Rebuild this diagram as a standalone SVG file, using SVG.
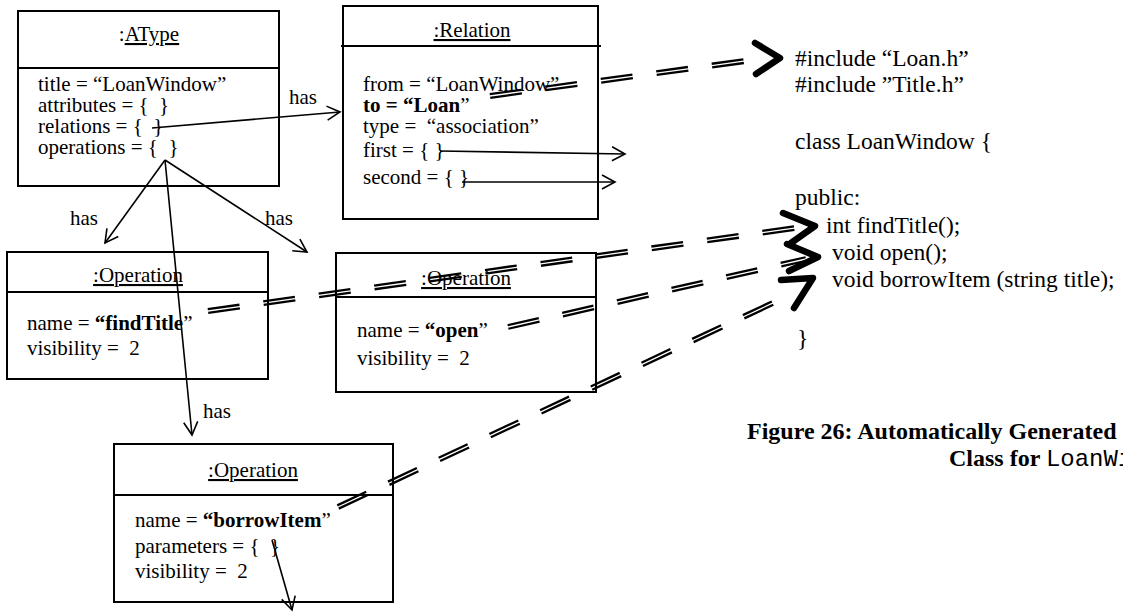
<svg xmlns="http://www.w3.org/2000/svg" width="1123" height="614" viewBox="0 0 1123 614">
  <style>
    text { font-family: "Liberation Serif", "Times New Roman", serif; fill: #000; white-space: pre; }
    .t { font-size: 21px; }
    .code { font-size: 23.5px; }
    .cap { font-size: 24px; font-weight: bold; }
    .mono { font-family: "Liberation Mono", "Courier New", monospace; font-weight: normal; }
    .b { font-weight: bold; }
    .u { text-decoration: underline; }
    .box { fill: #fff; stroke: #000; stroke-width: 2; }
    .div { stroke: #000; stroke-width: 2; }
    .link { stroke: #000; stroke-width: 1.6; fill: none; marker-end: url(#vee); }
    .dd { stroke: #000; stroke-width: 2.3; stroke-dasharray: 32 24; fill: none; }
    .head { stroke: #000; stroke-width: 6.5; fill: none; stroke-linecap: round; stroke-linejoin: round; }
  </style>
  <defs>
    <marker id="vee" markerUnits="userSpaceOnUse" markerWidth="18" markerHeight="18" viewBox="0 0 18 18" refX="16" refY="9" orient="auto">
      <path d="M3,2 L16,9 L3,16" fill="none" stroke="#000" stroke-width="1.6"/>
    </marker>
  </defs>

  <rect width="1123" height="614" fill="#fff"/>

  <!-- object: AType -->
  <g id="atype">
    <rect class="box" x="18" y="11" width="261" height="175"/>
    <line class="div" x1="18" y1="68" x2="279" y2="68"/>
    <text class="t" x="149" y="41" text-anchor="middle">:<tspan class="u">AType</tspan></text>
    <text class="t" x="38" y="91">title = “LoanWindow”</text>
    <text class="t" x="38" y="112">attributes = {  }</text>
    <text class="t" x="38" y="133">relations = {  }</text>
    <text class="t" x="38" y="154">operations = {  }</text>
  </g>

  <!-- object: Relation -->
  <g id="relation">
    <rect class="box" x="343" y="6" width="255" height="213"/>
    <line class="div" x1="341" y1="46" x2="601" y2="46"/>
    <text class="t u" x="472" y="37" text-anchor="middle">:Relation</text>
    <text class="t" x="363" y="91">from = “LoanWindow”</text>
    <text class="t" x="363" y="112"><tspan class="b">to = “Loan</tspan>”</text>
    <text class="t" x="363" y="133">type =  “association”</text>
    <text class="t" x="363" y="157">first = { }</text>
    <text class="t" x="363" y="184">second = { }</text>
  </g>

  <!-- object: Operation findTitle -->
  <g id="op-findtitle">
    <rect class="box" x="7" y="252" width="261" height="127"/>
    <line class="div" x1="7" y1="292" x2="268" y2="292"/>
    <text class="t u" x="138" y="282" text-anchor="middle">:Operation</text>
    <text class="t" x="27" y="330">name = <tspan class="b">“findTitle</tspan>”</text>
    <text class="t" x="27" y="355">visibility =  2</text>
  </g>

  <!-- object: Operation open -->
  <g id="op-open">
    <rect class="box" x="336" y="253" width="260" height="139"/>
    <line class="div" x1="336" y1="297" x2="596" y2="297"/>
    <text class="t u" x="466" y="285" text-anchor="middle">:Operation</text>
    <text class="t" x="357" y="337">name = <tspan class="b">“open</tspan>”</text>
    <text class="t" x="357" y="365">visibility =  2</text>
  </g>

  <!-- object: Operation borrowItem -->
  <g id="op-borrowitem">
    <rect class="box" x="114" y="444" width="279" height="158"/>
    <line class="div" x1="114" y1="495" x2="393" y2="495"/>
    <text class="t u" x="253" y="477" text-anchor="middle">:Operation</text>
    <text class="t" x="135" y="527">name = <tspan class="b">“borrowItem</tspan>”</text>
    <text class="t" x="135" y="553">parameters = {  }</text>
    <text class="t" x="135" y="578">visibility =  2</text>
  </g>

  <!-- generated C++ header -->
  <g id="code">
    <text class="code" x="795" y="66">#include “Loan.h”</text>
    <text class="code" x="795" y="92">#include ”Title.h”</text>
    <text class="code" x="795" y="149">class LoanWindow {</text>
    <text class="code" x="795" y="205">public:</text>
    <text class="code" x="826" y="233">int findTitle();</text>
    <text class="code" x="832" y="260">void open();</text>
    <text class="code" x="832" y="287">void borrowItem (string title);</text>
    <text class="code" x="797" y="346">}</text>
  </g>

  <!-- caption -->
  <g id="caption">
    <text class="cap" x="747" y="439">Figure 26: Automatically Generated</text>
    <text class="cap" x="949" y="466">Class for <tspan class="mono">LoanWindow</tspan></text>
  </g>

  <!-- connectors -->
  <g id="connectors">
    <!-- "has" links -->
    <line class="link" x1="152" y1="128" x2="340" y2="112"/>
    <line class="link" x1="165" y1="160" x2="105" y2="243"/>
    <line class="link" x1="165" y1="160" x2="307" y2="252"/>
    <line class="link" x1="165" y1="160" x2="192" y2="435"/>
    <line class="link" x1="440" y1="151" x2="625" y2="154"/>
    <line class="link" x1="462" y1="182" x2="615" y2="182"/>
    <line class="link" x1="272" y1="540" x2="292" y2="610"/>
    <text class="t" x="289" y="104">has</text>
    <text class="t" x="70" y="225">has</text>
    <text class="t" x="265" y="225">has</text>
    <text class="t" x="203" y="418">has</text>

    <!-- generation traces: doubled dashed lines -->
    <line class="dd" x1="489.75" y1="94.2" x2="744.75" y2="59.2"/>
    <line class="dd" x1="490.25" y1="97.8" x2="745.25" y2="62.8"/>

    <line class="dd" x1="207.75" y1="309.22" x2="794.75" y2="226.22"/>
    <line class="dd" x1="208.25" y1="312.78" x2="795.25" y2="229.78"/>

    <line class="dd" x1="507.6" y1="325.25" x2="805.6" y2="257.25"/>
    <line class="dd" x1="508.4" y1="328.75" x2="806.4" y2="260.75"/>

    <line class="dd" x1="337.24" y1="505.37" x2="774.24" y2="300.37"/>
    <line class="dd" x1="338.76" y1="508.63" x2="775.76" y2="303.63"/>

    <polyline class="head" points="755,43 780,58 756,74"/>
    <polyline class="head" points="783,213 815,226 791,243"/>
    <polyline class="head" points="787,244 818,257 789,271"/>
    <polyline class="head" points="781,280 813,278 794,308"/>
  </g>
</svg>
